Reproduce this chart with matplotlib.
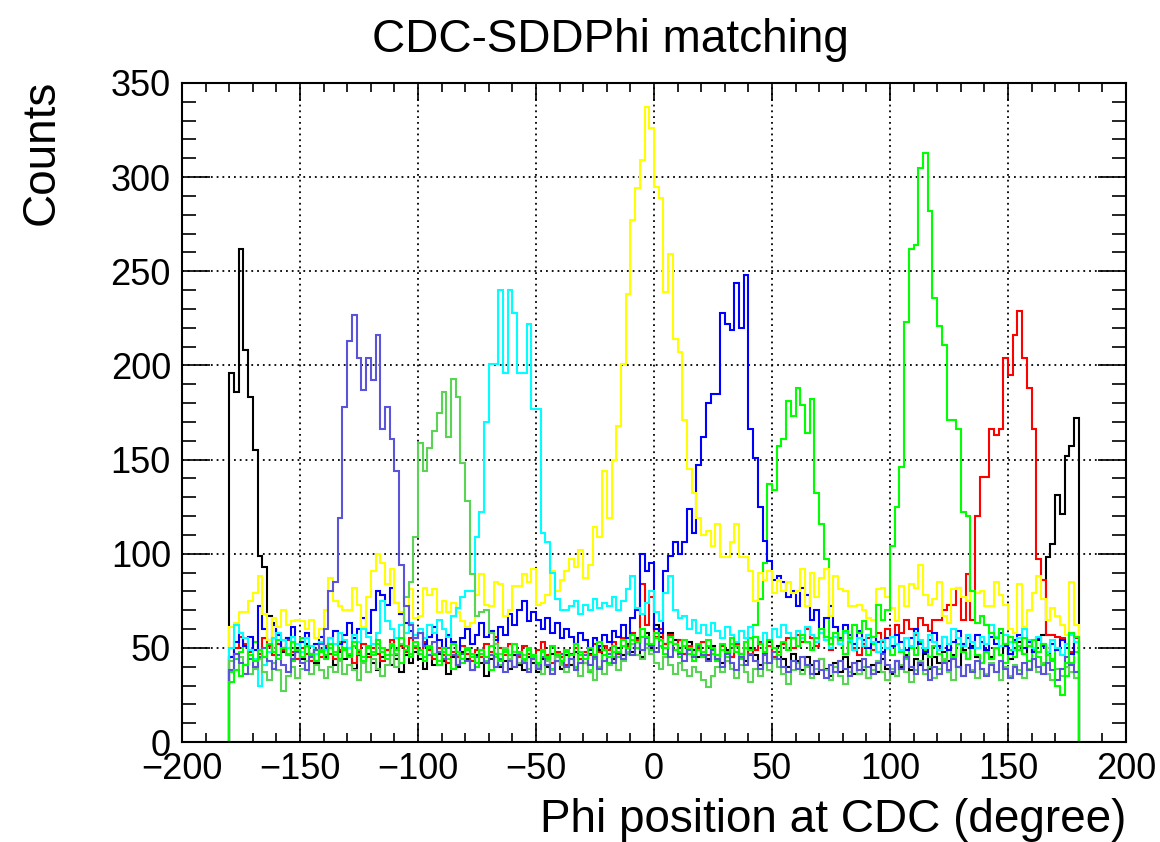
import numpy as np
import matplotlib
matplotlib.use('Agg')
import matplotlib.pyplot as plt
from matplotlib.ticker import MultipleLocator

plt.rcParams['font.family'] = ['Liberation Sans', 'DejaVu Sans']

# 180 bins of 2 degrees, -180 .. 180
edges = np.arange(-180, 181, 2)

black = [196, 186, 262, 208, 183, 155, 99, 93, 67, 63, 52, 48, 55, 46, 50, 44, 52, 47, 42, 49,
         45, 52, 41, 48, 44, 50, 39, 46, 43, 47, 42, 38, 45, 49, 41, 44, 37, 46, 42, 48,
         44, 39, 46, 41, 47, 43, 36, 45, 40, 48, 44, 38, 46, 42, 35, 44, 47, 40, 43, 39,
         46, 41, 38, 45, 42, 37, 44, 40, 47, 43, 39, 46, 41, 48, 44, 42, 47, 45, 49, 43,
         47, 44, 50, 46, 52, 48, 55, 45, 58, 50, 62, 56, 52, 58, 54, 50, 47, 53, 49, 45,
         48, 44, 51, 46, 42, 49, 45, 52, 47, 43, 50, 46, 41, 48, 53, 45, 51, 44, 40, 47,
         43, 38, 45, 41, 36, 44, 39, 35, 42, 37, 45, 40, 36, 43, 38, 34, 41, 37, 44, 39,
         36, 43, 40, 46, 38, 44, 41, 47, 39, 45, 42, 48, 43, 46, 40, 49, 44, 51, 45, 42,
         48, 45, 50, 46, 52, 44, 49, 53, 47, 51, 48, 54, 57, 98, 105, 131, 121, 152, 157, 172]

red = [45, 50, 56, 52, 48, 53, 47, 55, 51, 46, 52, 49, 54, 48, 44, 50, 47, 43, 49, 45,
       51, 47, 44, 49, 53, 46, 42, 48, 52, 45, 50, 47, 43, 49, 54, 46, 51, 48, 55, 50,
       47, 53, 49, 44, 50, 46, 42, 48, 45, 51, 47, 43, 49, 45, 52, 48, 56, 50, 46, 52,
       48, 45, 51, 47, 44, 49, 53, 46, 42, 48, 45, 41, 47, 50, 44, 48, 46, 52, 48, 51,
       49, 53, 47, 55, 51, 58, 54, 84, 62, 77, 56, 60, 52, 57, 49, 54, 47, 51, 45, 50,
       53, 46, 49, 44, 51, 48, 45, 52, 47, 50, 46, 49, 53, 47, 51, 45, 48, 52, 55, 50,
       57, 53, 60, 55, 51, 58, 54, 49, 56, 52, 47, 53, 50, 46, 52, 55, 49, 58, 53, 60,
       56, 62, 58, 65, 60, 57, 66, 62, 59, 65, 65, 70, 73, 73, 82, 65, 89, 65, 120, 141,
       141, 166, 163, 166, 204, 195, 216, 229, 204, 188, 166, 97, 86, 57, 57, 56, 55, 52, 48, 55]

yellow = [61, 63, 69, 69, 75, 79, 88, 68, 54, 66, 61, 70, 62, 64, 65, 64, 60, 65, 55, 60,
          70, 87, 75, 72, 70, 70, 82, 73, 61, 77, 91, 100, 95, 84, 92, 74, 69, 72, 81, 66,
          67, 82, 78, 81, 69, 75, 69, 74, 69, 64, 61, 63, 78, 89, 73, 72, 85, 84, 67, 70,
          83, 83, 89, 85, 92, 73, 74, 78, 91, 80, 86, 91, 97, 93, 102, 87, 94, 114, 109, 144,
          119, 150, 168, 201, 238, 277, 294, 309, 337, 326, 295, 289, 239, 259, 214, 207, 171, 145, 132, 119,
          110, 112, 104, 116, 98, 98, 106, 116, 98, 98, 91, 75, 90, 86, 91, 79, 86, 80, 85, 79,
          80, 92, 72, 90, 77, 87, 92, 67, 88, 81, 80, 72, 72, 73, 70, 66, 65, 81, 82, 77,
          71, 64, 83, 72, 84, 82, 94, 78, 73, 76, 85, 67, 63, 81, 82, 77, 75, 80, 79, 80,
          72, 72, 85, 78, 73, 60, 58, 84, 61, 70, 79, 88, 76, 65, 71, 67, 62, 57, 85, 62]

blue = [45, 53, 58, 51, 56, 49, 72, 60, 54, 62, 57, 50, 55, 61, 48, 53, 58, 47, 52, 56,
        50, 55, 59, 52, 57, 63, 55, 60, 66, 58, 70, 80, 78, 73, 82, 74, 68, 63, 59, 55,
        58, 52, 56, 61, 54, 50, 57, 53, 48, 55, 60, 52, 57, 63, 56, 59, 54, 61, 57, 68,
        62, 70, 75, 64, 69, 65, 60, 66, 58, 63, 55, 60, 56, 52, 58, 54, 49, 55, 51, 57,
        53, 59, 56, 62, 55, 66, 70, 100, 91, 95, 60, 58, 91, 99, 106, 100, 106, 124, 111, 147,
        162, 180, 185, 185, 228, 222, 219, 244, 220, 248, 166, 151, 125, 107, 96, 86, 88, 85, 77, 80,
        72, 82, 78, 65, 70, 58, 66, 72, 61, 55, 62, 57, 52, 59, 54, 50, 56, 53, 48, 55,
        51, 57, 53, 49, 55, 60, 52, 48, 54, 58, 51, 56, 49, 53, 59, 52, 55, 50, 57, 53,
        49, 56, 52, 58, 51, 47, 54, 57, 50, 53, 48, 55, 51, 46, 52, 49, 54, 50, 47, 53]

cyan = [50, 62, 58, 55, 49, 44, 30, 41, 48, 55, 58, 54, 50, 56, 52, 48, 55, 51, 47, 53,
        49, 55, 52, 58, 54, 50, 57, 53, 60, 56, 52, 58, 75, 64, 60, 55, 62, 58, 63, 57,
        60, 55, 62, 58, 65, 60, 56, 67, 71, 77, 80, 80, 109, 122, 170, 201, 201, 240, 196, 240,
        228, 196, 196, 222, 177, 177, 111, 106, 90, 76, 70, 70, 72, 75, 68, 73, 70, 76, 71, 74,
        72, 77, 70, 75, 81, 88, 71, 68, 74, 80, 69, 64, 79, 88, 70, 66, 67, 60, 65, 58,
        62, 57, 63, 59, 55, 61, 57, 53, 59, 55, 61, 56, 52, 58, 54, 60, 56, 62, 58, 55,
        59, 55, 61, 57, 53, 58, 54, 50, 56, 52, 58, 54, 49, 55, 51, 57, 53, 48, 54, 50,
        56, 52, 49, 55, 51, 58, 54, 50, 57, 53, 49, 56, 52, 60, 55, 51, 57, 53, 50, 56,
        52, 62, 56, 51, 57, 53, 49, 55, 60, 54, 50, 56, 52, 48, 54, 50, 46, 52, 57, 53]

green8 = [43, 38, 45, 41, 36, 39, 44, 37, 33, 42, 38, 27, 35, 40, 34, 39, 43, 36, 41, 38,
          34, 40, 37, 43, 36, 41, 38, 33, 42, 37, 44, 39, 35, 41, 46, 40, 52, 77, 85, 109,
          159, 144, 156, 165, 175, 186, 162, 193, 183, 148, 128, 89, 67, 69, 70, 58, 52, 47, 50, 44,
          48, 42, 46, 39, 44, 40, 36, 43, 38, 45, 41, 37, 44, 39, 35, 42, 38, 33, 40, 36,
          41, 45, 38, 43, 48, 52, 46, 44, 50, 47, 42, 39, 45, 41, 36, 42, 38, 35, 40, 37,
          33, 29, 35, 40, 37, 43, 39, 34, 41, 37, 32, 39, 35, 42, 38, 44, 40, 36, 31, 38,
          42, 36, 40, 34, 39, 44, 38, 33, 40, 35, 31, 37, 42, 36, 40, 34, 38, 43, 37, 33,
          39, 35, 41, 37, 32, 38, 43, 36, 40, 34, 39, 44, 37, 33, 40, 35, 41, 38, 34, 39,
          36, 42, 37, 33, 40, 35, 41, 38, 34, 39, 44, 37, 42, 36, 33, 39, 35, 40, 37, 34]

slate = [38, 47, 42, 36, 44, 40, 45, 50, 43, 39, 46, 41, 37, 44, 48, 42, 38, 45, 49, 52,
         60, 80, 85, 119, 178, 213, 227, 204, 187, 204, 192, 216, 166, 178, 161, 144, 94, 72, 62, 55,
         58, 51, 46, 53, 48, 44, 50, 46, 41, 47, 43, 38, 45, 49, 42, 46, 40, 44, 37, 43,
         40, 46, 42, 37, 44, 39, 45, 41, 36, 43, 47, 40, 44, 38, 42, 46, 41, 45, 39, 43,
         47, 42, 48, 44, 50, 46, 53, 49, 55, 51, 48, 54, 50, 45, 52, 47, 43, 49, 45, 51,
         46, 43, 49, 44, 40, 47, 42, 38, 45, 41, 47, 43, 39, 46, 42, 48, 44, 40, 37, 43,
         39, 45, 41, 36, 43, 38, 34, 41, 37, 43, 39, 35, 42, 38, 44, 40, 36, 42, 47, 41,
         37, 43, 39, 45, 40, 36, 42, 38, 33, 40, 36, 42, 38, 44, 40, 35, 41, 37, 43, 39,
         35, 41, 37, 43, 39, 34, 40, 36, 42, 38, 44, 40, 36, 42, 38, 33, 39, 45, 41, 37]

green_a = [37, 44, 48, 51, 46, 53, 49, 45, 52, 48, 54, 50, 47, 43, 49, 55, 51, 46, 52, 48,
           44, 50, 46, 53, 49, 45, 51, 47, 43, 50, 46, 52, 48, 44, 51, 47, 42, 49, 45, 51,
           47, 43, 50, 46, 41, 48, 44, 39, 46, 42, 49, 45, 40, 47, 43, 38, 45, 41, 48, 44,
           40, 47, 43, 49, 45, 41, 48, 44, 39, 46, 42, 48, 44, 40, 46, 42, 37, 44, 40, 46,
           42, 48, 45, 51, 47, 54, 50, 56, 52, 49, 55, 51, 47, 53, 49, 45, 51, 47, 43, 49,
           45, 51, 47, 43, 49, 45, 52, 48, 44, 50, 55, 62, 76, 95, 137, 134, 157, 161, 181, 173,
           188, 179, 164, 182, 132, 116, 97, 55, 58, 52, 47, 53, 49, 55, 51, 46, 52, 48, 54, 50,
           46, 52, 48, 44, 50, 46, 53, 49, 45, 51, 47, 43, 49, 45, 52, 48, 44, 50, 46, 42,
           48, 44, 50, 46, 42, 49, 45, 51, 47, 43, 49, 45, 41, 48, 44, 50, 46, 35, 42, 48]

green_b = [32, 38, 35, 41, 46, 43, 49, 45, 52, 48, 44, 50, 46, 53, 49, 45, 51, 47, 43, 49,
           46, 52, 48, 44, 50, 47, 53, 49, 45, 51, 48, 54, 50, 46, 52, 49, 55, 51, 47, 53,
           49, 45, 51, 47, 43, 50, 46, 52, 48, 44, 50, 47, 42, 49, 45, 51, 47, 43, 49, 46,
           52, 48, 44, 50, 46, 42, 49, 45, 51, 47, 43, 49, 46, 52, 48, 44, 50, 46, 53, 49,
           45, 51, 48, 54, 50, 57, 53, 60, 56, 52, 58, 54, 50, 56, 52, 48, 54, 50, 46, 52,
           48, 54, 50, 46, 52, 48, 55, 51, 47, 53, 49, 56, 52, 48, 54, 50, 46, 53, 49, 55,
           51, 57, 53, 49, 55, 60, 56, 52, 58, 54, 59, 55, 62, 58, 64, 60, 56, 73, 65, 70,
           104, 125, 146, 223, 262, 264, 305, 313, 282, 236, 221, 211, 171, 171, 166, 122, 120, 80, 63, 67,
           62, 58, 55, 60, 52, 56, 53, 49, 55, 51, 54, 48, 52, 46, 43, 30, 25, 42, 58, 56]

series = [(black, '#000000'), (red, '#ff0000'), (green_a, '#00ff00'),
          (blue, '#0000ff'), (yellow, '#ffff00'), (cyan, '#00ffff'),
          (green8, '#59d454'), (slate, '#5954d9'), (green_b, '#00ff00')]

fig = plt.figure(figsize=(11.6, 8.42), dpi=100)
ax = fig.add_axes([182 / 1160, 1 - 742 / 842, (1126 - 182) / 1160, (742 - 83) / 842])

for vals, col in series:
    ax.stairs(vals, edges, color=col, lw=1.5, baseline=0)

ax.set_xlim(-200, 200)
ax.set_ylim(0, 350)
ax.xaxis.set_major_locator(MultipleLocator(50))
ax.xaxis.set_minor_locator(MultipleLocator(10))
ax.yaxis.set_major_locator(MultipleLocator(50))
ax.yaxis.set_minor_locator(MultipleLocator(10))
ax.set_axisbelow(True)
ax.grid(True, which='major', color='black', linestyle=(0, (1, 2.2)), lw=1.3)

ax.tick_params(which='both', direction='in', top=True, right=True, labelsize=26, width=1.2)
ax.tick_params(axis='x', which='major', length=13, pad=7)
ax.tick_params(axis='x', which='minor', length=6.5)
ax.tick_params(axis='y', which='major', length=20, pad=8)
ax.tick_params(axis='y', which='minor', length=10)
for sp in ax.spines.values():
    sp.set_linewidth(1.5)

fig.text(610 / 1160, 1 - 40 / 842, 'CDC-SDDPhi matching', fontsize=33, ha='center', va='center')
fig.text(1126 / 1160, 1 - 832 / 842, 'Phi position at CDC (degree)', fontsize=33,
         ha='right', va='baseline')
fig.text(42 / 1160, 1 - 80 / 842, 'Counts', fontsize=33, rotation=90, ha='center', va='top')

fig.savefig('out.png', dpi=100)
